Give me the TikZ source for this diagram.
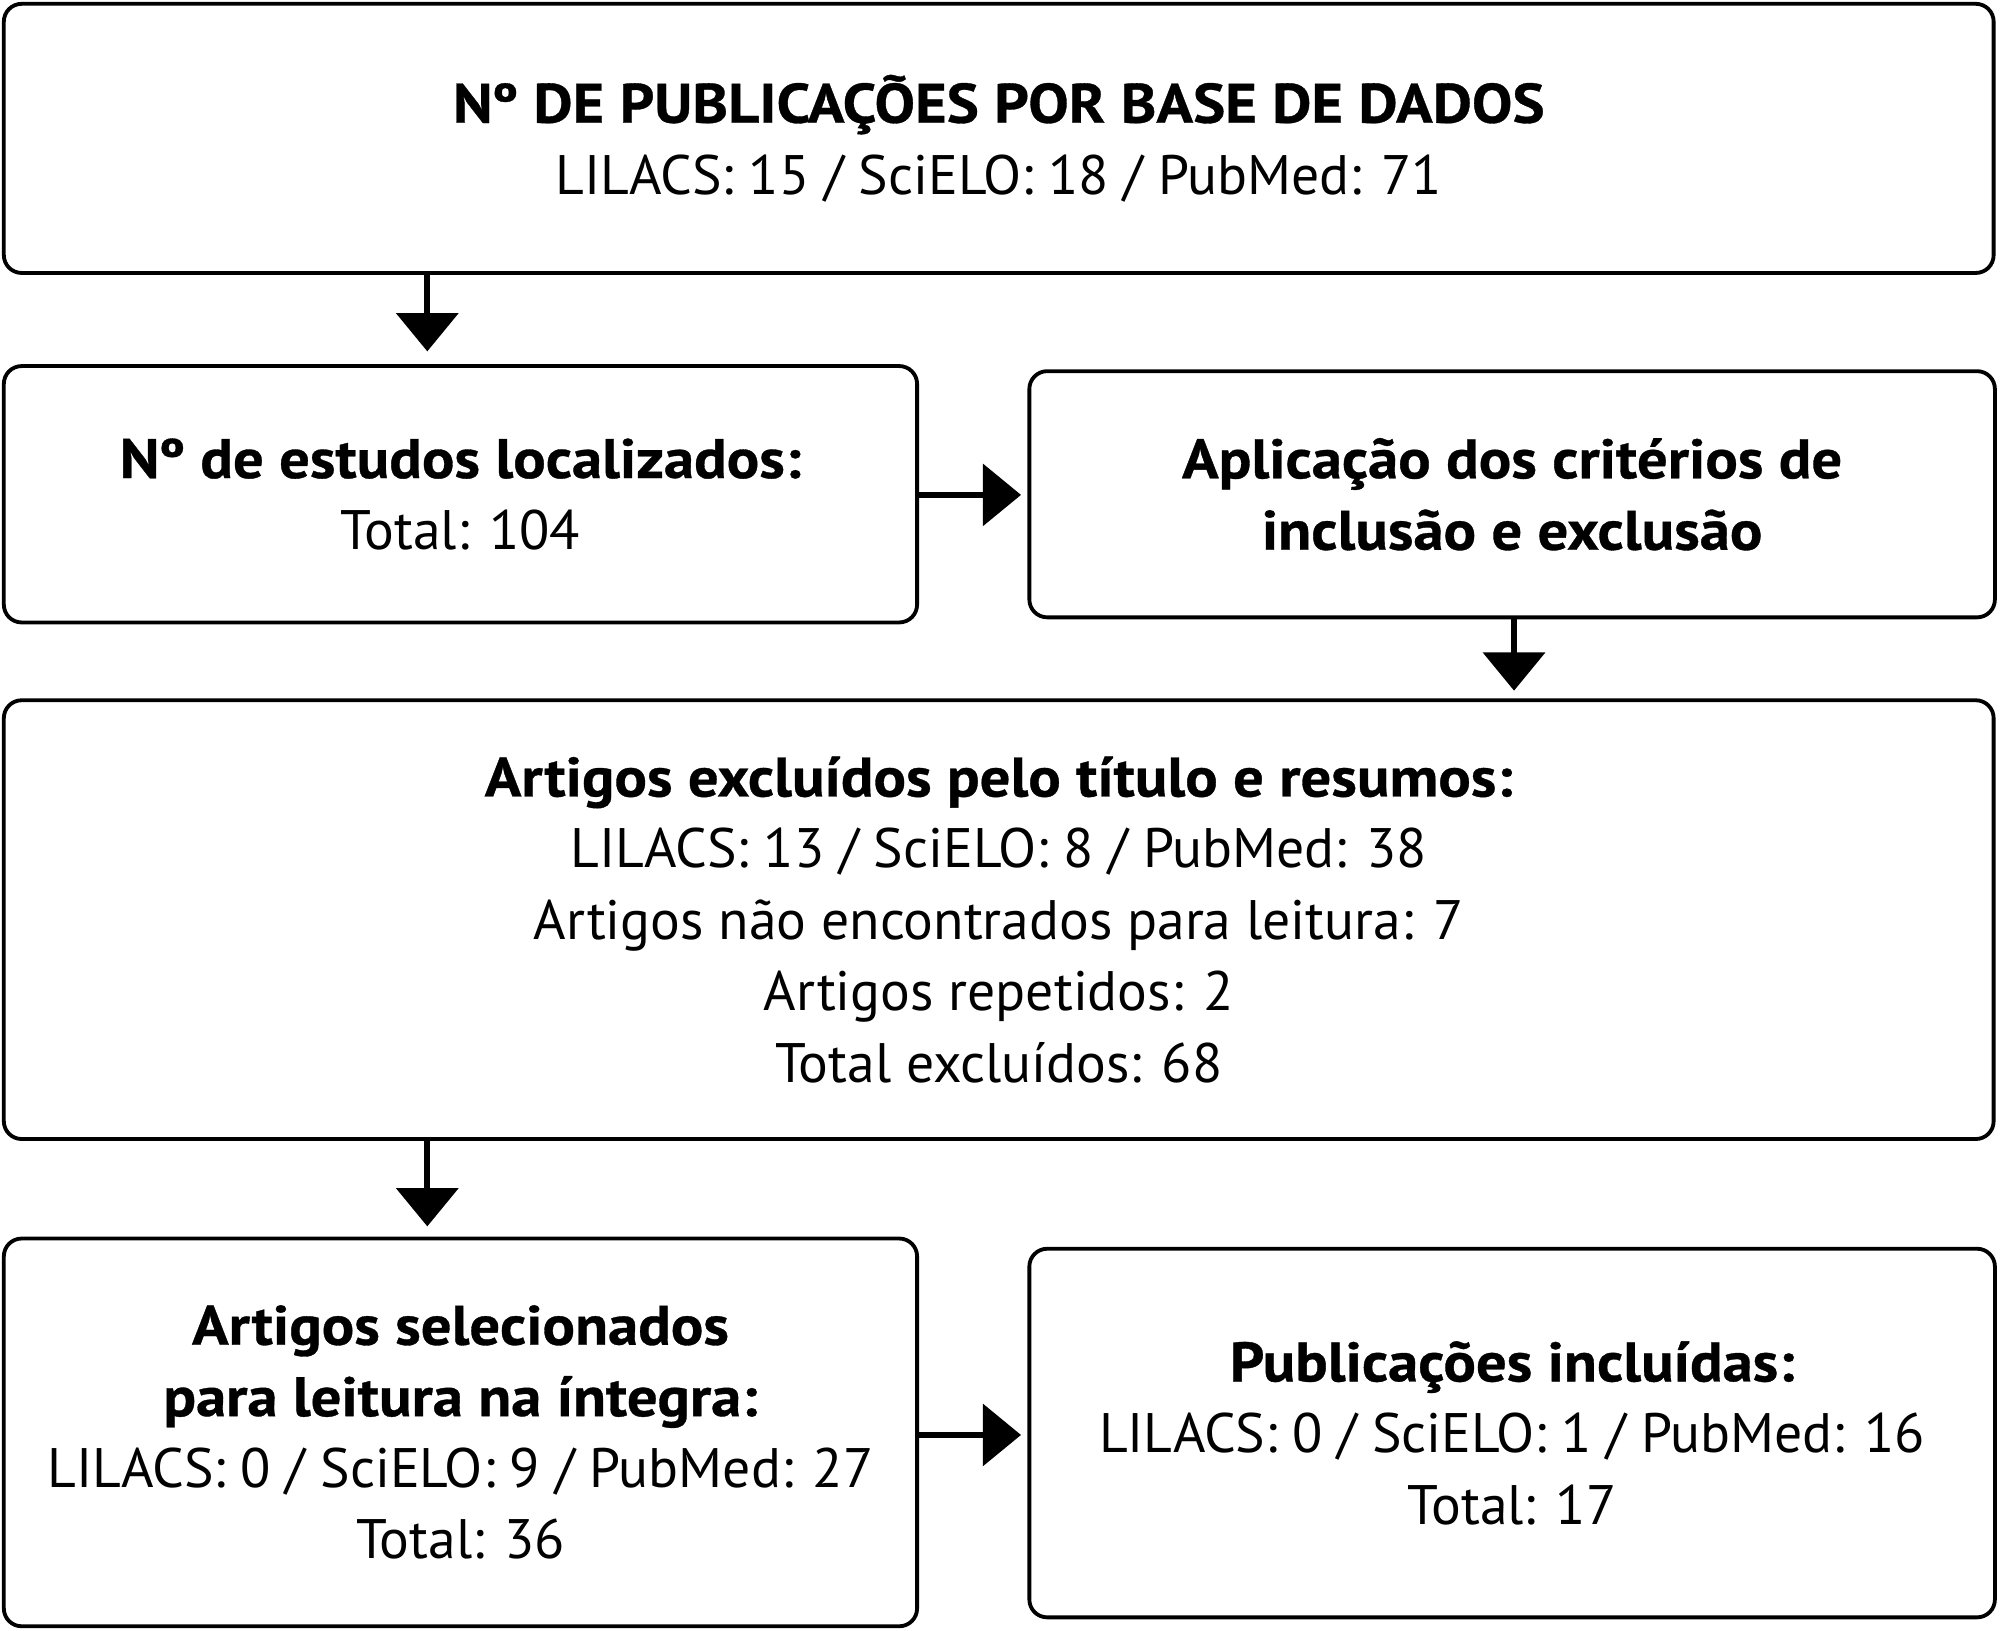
\documentclass[tikz,border=0pt]{standalone}
\usepackage{fontspec}
\setmainfont{PT Sans}[BoldFeatures={FakeStretch=1.09,FakeBold=0.6}]
\usetikzlibrary{arrows.meta}
\begin{document}
\begin{tikzpicture}[x=0.5pt,y=-0.5pt,
  box/.style={draw,line width=1.5pt,rounded corners=7pt,align=center,inner sep=0pt,
    font=\fontsize{21.8}{28}\selectfont},
  arr/.style={line width=2.5pt,-{Triangle[width=24pt,length=15pt]}}]
\useasboundingbox (0,0) rectangle (1568,1278);
\node[box,minimum width=780pt,minimum height=105.5pt] (a) at (783,108.5)
  {\textbf{Nº DE PUBLICAÇÕES POR BASE DE DADOS}\\LILACS: 15 / SciELO: 18 / PubMed: 71};
\node[box,minimum width=358pt,minimum height=100.5pt] (b) at (361,387.5)
  {\textbf{Nº de estudos localizados:}\\Total: 104};
\node[box,minimum width=378.5pt,minimum height=96.5pt] (c) at (1185.5,387.5)
  {\textbf{Aplicação dos critérios de}\\\textbf{inclusão e exclusão}};
\node[box,minimum width=780pt,minimum height=172pt] (d) at (783,721)
  {\textbf{Artigos excluídos pelo título e resumos:}\\LILACS: 13 / SciELO: 8 / PubMed: 38\\Artigos não encontrados para leitura: 7\\Artigos repetidos: 2\\Total excluídos: 68};
\node[box,minimum width=358pt,minimum height=152pt] (e) at (361,1123)
  {\textbf{Artigos selecionados}\\\textbf{para leitura na íntegra:}\\LILACS: 0 / SciELO: 9 / PubMed: 27\\Total: 36};
\node[box,minimum width=378.5pt,minimum height=144.5pt] (f) at (1185.5,1123.5)
  {\textbf{Publicações incluídas:}\\LILACS: 0 / SciELO: 1 / PubMed: 16\\Total: 17};
\coordinate (x1) at (335,0);
\coordinate (x2) at (1187,0);
\coordinate (y1) at (0,388);
\coordinate (y2) at (0,1125);
\draw[arr,shorten >=5pt] (a.south -| x1) -- (b.north -| x1);
\draw[arr,shorten >=2.5pt] (b.east |- y1) -- (c.west |- y1);
\draw[arr,shorten >=3pt] (c.south -| x2) -- (d.north -| x2);
\draw[arr,shorten >=4pt] (d.south -| x1) -- (e.north -| x1);
\draw[arr,shorten >=2.5pt] (e.east |- y2) -- (f.west |- y2);
\end{tikzpicture}
\end{document}
